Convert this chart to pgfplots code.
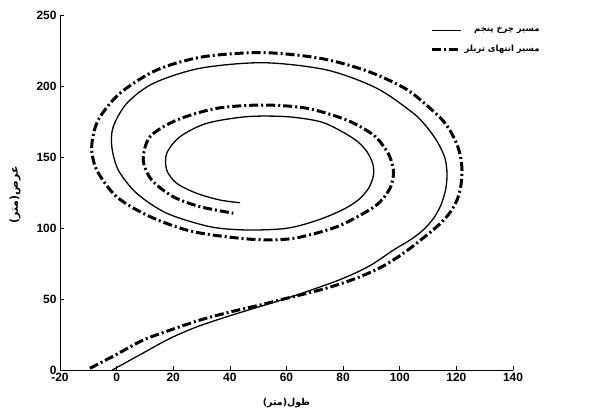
\documentclass[border=0pt]{standalone}
\usepackage{fontspec}
\setmainfont{Liberation Sans}
\newfontfamily\arabicfont[Script=Arabic]{DejaVu Sans}
\TeXXeTstate=1
\usepackage{pgfplots}
\pgfplotsset{compat=1.18}

\pgfplotstableread{
x y
-1.5 0
8.5 11
18.9 22.3
28.5 30.5
38.9 37.5
49.5 44
60.1 50.5
70 57.2
80.1 64.6
89.5 73.5
97.8 84.5
104 92
108.5 99
112 107
114.5 116
116.2 127
116.7 138
116 149
113.5 160
109.8 170.5
104.8 180.8
91.9 198.4
74.2 211.3
51.8 216.4
29.5 212.5
13 201.9
3.6 187.8
-1.2 171.3
-1.7 157.3
0.6 140.8
7.1 124.4
17.7 110.4
33 100.9
46 98.6
60.1 99.8
71 105.5
80 113
85.5 120
89 128
90.7 137
90.5 145
88.5 153.5
85 161
79.5 168
71.9 174.9
60.1 178.4
46 178.4
31.8 173.7
22.4 164.3
17.7 152.6
17.7 140.8
21.2 131.5
28.3 124.4
36.5 119.7
43.6 117.8
}\fifthwheel

\pgfplotstableread{
x y
-9.4 1.2
0 11
9.4 21.1
19.5 28.5
29.5 35.2
40 40.8
50.7 45.8
60 50.5
69.5 55.1
78 60
86 65.7
94 73
101.3 82.2
108 92.5
112 99
115.5 105.5
118.3 112.5
120.4 120.5
121.6 130
122 140
121.5 150
120 160
117 171
113.1 180
102.5 197.5
88.4 210.6
71.9 219.5
51.8 223.5
30.6 220.6
14.2 211.3
1.2 194.9
-6.5 176
-8.8 157.3
-7 140.8
0 122
11.8 108
27.1 97.4
48 92
62.4 92.7
77.8 100.9
89.5 113
93.8 120
96.8 129
97.8 138.5
97.2 146
95.5 154
90.7 165.5
81.3 176
67.2 184.3
51.8 186.6
35.4 184.3
21.2 176
11.8 164.3
9.4 147.9
12.4 133.8
20 122
29.5 115
41.2 110.4
}\trailerend

\begin{document}
\begin{tikzpicture}
\path[use as bounding box] (-60bp,-45bp) rectangle (531bp,370bp);
\begin{axis}[
  scale only axis, width=453bp, height=355bp,
  xmin=-20, xmax=140, ymin=0, ymax=250,
  axis lines=left, axis line style={-, line width=0.8bp},
  xtick={-20,0,20,40,60,80,100,120,140},
  ytick={0,50,100,150,200,250},
  tick align=inside, major tick length=4bp,
  tick style={black, line width=0.6bp},
  ticklabel style={font=\fontsize{12}{14}\selectfont\bfseries},
  /pgf/number format/assume math mode=true,
  xlabel={\arabicfont\bfseries (متر)\kern0pt طول},
  ylabel={\arabicfont\bfseries (متر)\kern0pt عرض},
  xlabel style={at={(axis description cs:0.5,-0.093)}, anchor=center, font=\fontsize{9.5}{11}\selectfont},
  ylabel style={at={(axis description cs:-0.099,0.493)}, anchor=center, rotate=0, font=\fontsize{11}{13}\selectfont},
  legend style={draw=none, fill=none, at={(axis description cs:1.07,0.978)}, anchor=north east,
    font=\arabicfont\bfseries\fontsize{8.5}{10}\selectfont, row sep=8bp},
  legend cell align=right,
  legend image code/.code={\draw[#1] (0bp,0bp) -- (29bp,0bp);},
]
\addplot[black, line width=1.3bp, smooth, tension=0.5] table {\fifthwheel};
\addlegendentry{\beginR مسیر چرخ پنجم\endR}
\addplot[black, line width=3bp, smooth, tension=0.5, dash pattern=on 9bp off 3bp on 2bp off 3bp] table {\trailerend};
\addlegendentry{\beginR مسیر انتهای تریلر\endR}
\end{axis}
\end{tikzpicture}
\end{document}
